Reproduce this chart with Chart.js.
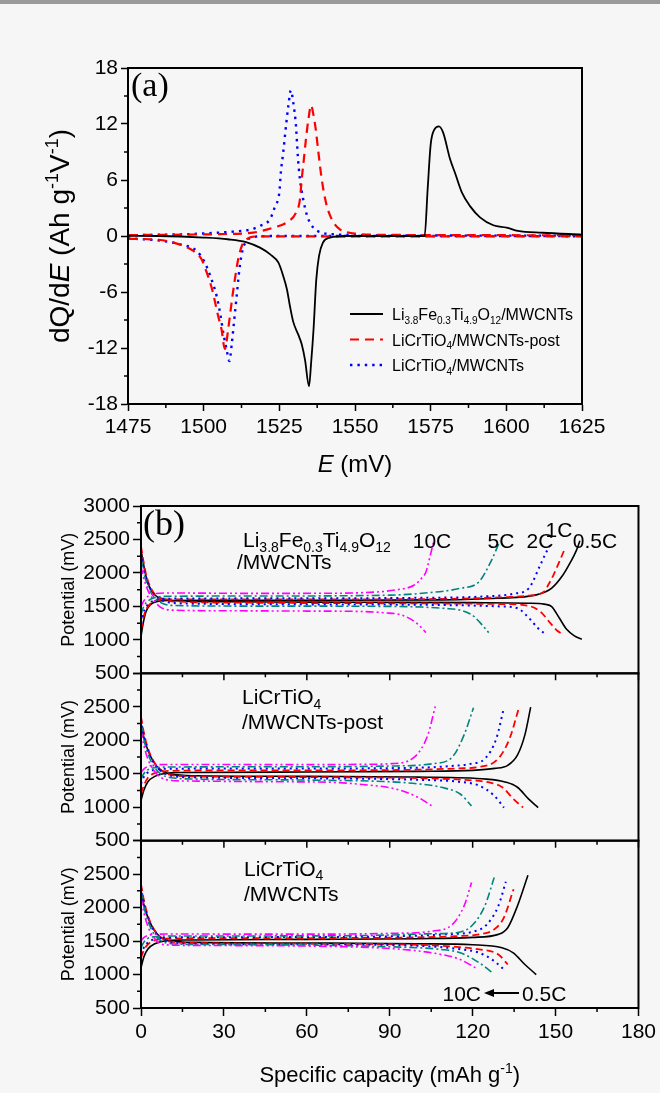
<!DOCTYPE html>
<html>
<head>
<meta charset="utf-8">
<title>dQ/dE and rate curves</title>
<script src="https://cdn.jsdelivr.net/npm/chart.js@4.4.1/dist/chart.umd.min.js"></script>
<style>
  html, body { margin: 0; padding: 0; background: #f6f6f6; }
  #page { position: relative; width: 660px; height: 1093px; overflow: hidden; }
  #topbar { position: absolute; left: 0; top: 0; width: 660px; height: 4px; background: #9a9a9a; }
  .box { position: absolute; left: 0; width: 660px; }
  #boxA { top: 0; height: 480px; }
  #boxB { top: 480px; height: 613px; }
</style>
</head>
<body>
<div id="page">
  <div id="topbar"></div>
  <div class="box" id="boxA"><canvas id="dqde"></canvas></div>
  <div class="box" id="boxB"><canvas id="rate"></canvas></div>
</div>
<script>
// ---------- tick labels ----------
const eTicks = [1475, 1500, 1525, 1550, 1575, 1600, 1625];
const dqTicks = [-18, -12, -6, 0, 6, 12, 18];
const capTicks = [0, 30, 60, 90, 120, 150, 180];
const potTicks = [500, 1000, 1500, 2000, 2500, 3000];

// ---------- panel (a): [E (mV), dQ/dE] ----------
const feDqde = [[1475,0.02],[1485,0],[1500,-0.17],[1508,-0.35],[1514,-0.65],[1518.6,-1.25],[1522,-1.97],[1524.7,-2.86],[1526.3,-4.3],[1527.5,-5.7],[1528.5,-7.5],[1529.6,-9.2],[1531.3,-10.6],[1532.4,-11.6],[1533.5,-13.3],[1534.8,-16.1],[1535.5,-13.6],[1536.3,-10.0],[1537.2,-4.7],[1538.1,-2.15],[1539.4,-0.71],[1541.7,-0.17],[1547,0],[1573,0],[1574,5],[1575,9.8],[1576.2,11.4],[1577.7,11.75],[1579.1,11.1],[1581.4,8.25],[1583,6.8],[1585.3,4.67],[1588,3.2],[1591.3,2.0],[1595.7,1.15],[1600.1,0.9],[1603.8,0.54],[1612,0.35],[1625,0.15]];
const postDis = [[1475,-0.3],[1485,-0.4],[1492,-0.9],[1496.6,-1.6],[1499.3,-2.5],[1501,-3.9],[1502.6,-5.5],[1503.7,-7.0],[1504.8,-8.6],[1505.9,-10.0],[1507,-12.1],[1508.1,-10.0],[1509.2,-7.2],[1510.3,-4.66],[1511.4,-2.5],[1512.6,-1.07],[1514.2,-0.35],[1517.5,-0.05],[1540,-0.05],[1625,-0.05]];
const postChg = [[1475,0.1],[1495,0.15],[1505.4,0.2],[1516.4,0.37],[1523,0.9],[1527.4,1.44],[1530.5,2.5],[1531.8,3.9],[1532.4,6.1],[1533.1,8.2],[1533.8,10.4],[1534.6,12.5],[1535.5,14.0],[1536.2,13.1],[1537,11.5],[1537.9,9.0],[1539,6.1],[1540.4,3.6],[1542.3,1.8],[1545,0.72],[1549.4,0.29],[1560,0.12],[1625,0.08]];
const lctoDis = [[1475,-0.25],[1485.6,-0.5],[1492.2,-0.89],[1497.7,-1.6],[1500.4,-2.86],[1502.6,-4.66],[1504.3,-6.45],[1505.4,-8.2],[1506.5,-10.4],[1507.6,-12.2],[1508.5,-13.4],[1509.3,-11.5],[1510,-9.3],[1510.9,-6.45],[1511.8,-3.6],[1512.9,-1.43],[1514.2,-0.54],[1517.5,-0.06],[1524,0],[1625,-0.02]];
const lctoChg = [[1475,0.08],[1495,0.2],[1505.4,0.37],[1509.8,0.47],[1515.9,0.72],[1518.6,1.08],[1521.9,1.8],[1523.6,3.2],[1525,4.67],[1525.5,6.8],[1526.3,9.0],[1527.2,11.8],[1528,14.0],[1528.8,15.6],[1529.6,14.3],[1530.5,11.8],[1531.1,8.6],[1531.8,6.1],[1532.9,3.9],[1534.2,2.15],[1536.2,0.9],[1539,0.37],[1542.8,0.18],[1560,0.06],[1625,0.04]];

// ---------- panel (b): [capacity (mAh/g), potential (mV)] ----------
// Li3.8Fe0.3Ti4.9O12/MWCNTs
const fe05C_chg = [[0,1050],[0.8,1250],[1.8,1420],[3.5,1530],[6,1575],[10,1588],[30,1590],[60,1592],[108.6,1598],[129,1622],[143,1672],[148.5,1770],[152.6,1965],[155.4,2161],[157.5,2333],[158.8,2480]];
const fe05C_dis = [[0,2350],[0.8,2150],[1.8,1950],[3.2,1780],[5,1670],[8,1610],[12,1585],[30,1570],[80,1562],[120,1556],[140,1548],[145.8,1534],[148.5,1500],[151.3,1330],[154,1157],[156.8,1060],[159.5,1010]];
const fe1C_chg = [[0,1150],[1,1350],[2.2,1480],[4,1560],[7,1600],[12,1605],[60,1605],[110,1612],[130,1635],[140,1660],[145.8,1720],[147.5,1830],[149.2,1965],[151.5,2180],[153.3,2357]];
const fe1C_dis = [[0,2400],[1,2150],[2,1950],[3.5,1780],[5.5,1660],[9,1590],[14,1570],[40,1555],[100,1545],[130,1535],[140,1510],[144.4,1426],[148.5,1230],[150.5,1140],[152.7,1083]];
const fe2C_chg = [[0,1250],[1,1420],[2.5,1530],[5,1590],[9,1615],[40,1620],[100,1628],[125,1650],[135,1690],[140.3,1770],[144.4,2112],[146.5,2300],[148.5,2455]];
const fe2C_dis = [[0,2300],[1,2080],[2.2,1880],[4,1720],[6.5,1620],[10,1560],[20,1540],[60,1530],[110,1520],[130,1500],[136.1,1475],[140.3,1330],[143.5,1180],[146.4,1083]];
const fe5C_chg = [[0,1380],[1,1500],[2.5,1580],[5,1630],[9,1650],[40,1655],[90,1668],[101.7,1696],[115.5,1770],[122.3,1868],[126.5,2162],[129.9,2480]];
const fe5C_dis = [[0,2200],[1,2000],[2.5,1800],[4.5,1650],[7,1560],[11,1515],[30,1505],[90,1500],[101.7,1490],[110,1470],[115.5,1445],[119,1390],[121,1330],[123.5,1220],[125.8,1108]];
const fe10C_chg = [[0,1500],[1,1580],[2.5,1650],[5,1690],[10,1700],[40,1695],[67,1696],[85,1715],[92,1745],[98.9,1819],[101.5,1920],[103.1,2015],[104.6,2250],[105.8,2456]];
const fe10C_dis = [[0,2100],[1,1920],[2.5,1740],[4.5,1600],[7,1490],[11,1445],[30,1435],[60,1430],[80,1424],[87.9,1405],[94.8,1365],[100.3,1230],[103.1,1108]];
// LiCrTiO4/MWCNTs-post
const post05C_chg = [[0,1100],[1,1250],[2.5,1380],[5,1460],[9,1505],[15,1518],[60,1525],[100,1535],[120,1550],[128,1580],[132.7,1626],[136.2,1778],[138.9,2081],[141,2495]];
const post05C_dis = [[0,2250],[1,2050],[2.5,1850],[4.5,1680],[7,1560],[11,1490],[20,1470],[60,1460],[100,1450],[125,1420],[132,1374],[136.2,1298],[140.3,1121],[143.7,995]];
const post1C_chg = [[0,1200],[1,1320],[2.5,1440],[5,1510],[9,1540],[20,1548],[60,1550],[100,1560],[115,1580],[122.4,1601],[129.3,1727],[133.4,2030],[136.8,2495]];
const post1C_dis = [[0,2350],[1,2120],[2.5,1880],[4.5,1690],[7,1560],[11,1480],[20,1460],[60,1450],[100,1435],[120,1400],[127,1360],[130.7,1298],[134.8,1121],[138.2,995]];
const post2C_chg = [[0,1350],[1,1450],[2.5,1520],[5,1560],[10,1575],[60,1578],[100,1590],[112,1615],[119.6,1651],[124.5,1727],[128.6,2030],[131.3,2485]];
const post2C_dis = [[0,2300],[1,2080],[2.5,1850],[4.5,1670],[7,1550],[11,1470],[20,1445],[60,1432],[100,1410],[115,1380],[122.3,1323],[127.8,1172],[131.3,995]];
const post5C_chg = [[0,1420],[1,1500],[2.5,1560],[5,1590],[10,1600],[60,1605],[90,1615],[105.8,1651],[112.7,1752],[116.9,2081],[120.3,2485]];
const post5C_dis = [[0,2250],[1,2020],[2.5,1800],[4.5,1620],[7,1500],[11,1440],[20,1420],[60,1405],[90,1380],[100,1350],[108.6,1298],[115.5,1197],[119.6,1020]];
const post10C_chg = [[0,1520],[1,1570],[2.5,1610],[5,1630],[10,1638],[60,1636],[80,1640],[90.7,1651],[99,1752],[103.8,2081],[106.5,2510]];
const post10C_dis = [[0,2150],[1,1930],[2.5,1720],[4.5,1560],[7,1450],[11,1400],[20,1390],[50,1380],[67.3,1374],[80,1340],[92,1273],[100.3,1146],[105.2,1020]];
// LiCrTiO4/MWCNTs
const lcto05C_chg = [[0,1100],[1,1260],[2.5,1380],[5,1460],[9,1505],[15,1515],[60,1525],[100,1535],[120,1555],[129.3,1600],[132.7,1700],[136.2,2025],[140,2485]];
const lcto05C_dis = [[0,2250],[1,2050],[2.5,1850],[4.5,1680],[7,1560],[11,1500],[20,1480],[60,1470],[100,1460],[120,1445],[130.6,1400],[134.7,1325],[138.9,1150],[143,1000]];
const lcto1C_chg = [[0,1250],[1,1360],[2.5,1450],[5,1510],[9,1535],[20,1542],[60,1545],[100,1555],[115,1575],[122.3,1600],[127.8,1675],[131.3,1850],[134.8,2275]];
const lcto1C_dis = [[0,2350],[1,2120],[2.5,1880],[4.5,1690],[7,1560],[11,1490],[20,1470],[60,1460],[100,1445],[115,1410],[122.4,1375],[129.3,1300],[132.7,1150]];
const lcto2C_chg = [[0,1300],[1,1400],[2.5,1480],[5,1530],[9,1552],[20,1558],[60,1560],[95,1575],[110,1600],[121,1650],[125.2,1750],[129.3,2025],[132,2385]];
const lcto2C_dis = [[0,2300],[1,2080],[2.5,1850],[4.5,1670],[7,1550],[11,1480],[20,1460],[60,1450],[100,1430],[115,1380],[122.4,1325],[127.8,1200],[132,1050]];
const lcto5C_chg = [[0,1400],[1,1480],[2.5,1540],[5,1565],[9,1575],[60,1577],[90,1590],[105,1610],[114.1,1625],[119.6,1725],[124.4,2025],[127.8,2450]];
const lcto5C_dis = [[0,2250],[1,2020],[2.5,1800],[4.5,1620],[7,1510],[11,1460],[20,1450],[60,1440],[90,1415],[108.6,1375],[115.5,1325],[122.4,1175],[127.2,1025]];
const lcto10C_chg = [[0,1500],[1,1550],[2.5,1585],[5,1600],[9,1605],[60,1603],[90,1615],[105.8,1650],[112.7,1750],[116.9,2025],[119.6,2375]];
const lcto10C_dis = [[0,2150],[1,1930],[2.5,1720],[4.5,1560],[7,1460],[11,1440],[20,1435],[60,1425],[94.8,1375],[108.6,1300],[115.5,1225],[121,1100]];

const rates = ['0.5C', '1C', '2C', '5C', '10C'];
const fePanel = [[fe05C_chg, fe05C_dis], [fe1C_chg, fe1C_dis], [fe2C_chg, fe2C_dis], [fe5C_chg, fe5C_dis], [fe10C_chg, fe10C_dis]];
const postPanel = [[post05C_chg, post05C_dis], [post1C_chg, post1C_dis], [post2C_chg, post2C_dis], [post5C_chg, post5C_dis], [post10C_chg, post10C_dis]];
const lctoPanel = [[lcto05C_chg, lcto05C_dis], [lcto1C_chg, lcto1C_dis], [lcto2C_chg, lcto2C_dis], [lcto5C_chg, lcto5C_dis], [lcto10C_chg, lcto10C_dis]];

// ---------- text ----------
const feName = [{t:'Li'},{t:'3.8',sub:1},{t:'Fe'},{t:'0.3',sub:1},{t:'Ti'},{t:'4.9',sub:1},{t:'O'},{t:'12',sub:1}];
const lctoName = [{t:'LiCrTiO'},{t:'4',sub:1}];
const yTitleA = [{t:'dQ/d'},{t:'E',it:1},{t:' (Ah g'},{t:'-1',sup:1},{t:'V'},{t:'-1',sup:1},{t:')'}];
const xTitleA = [{t:'E',it:1},{t:' (mV)'}];
const xTitleB = [{t:'Specific capacity (mAh g'},{t:'-1',sup:1},{t:')'}];

const SANS = '"Liberation Sans", Arial, Helvetica, sans-serif';
const SERIF = '"Liberation Serif", "Times New Roman", serif';
Chart.defaults.font.family = SANS;
Chart.defaults.color = '#000';

const rateStyle = {
  '0.5C': {color: '#000000', dash: [], width: 1.6},
  '1C':   {color: '#ff0000', dash: [7, 4], width: 1.8},
  '2C':   {color: '#0000ff', dash: [2, 4], width: 2},
  '5C':   {color: '#00857f', dash: [8, 3, 2, 3], width: 1.6},
  '10C':  {color: '#ff00ff', dash: [8, 3, 2, 3, 2, 3], width: 1.6},
};

// join branches into one point list, with a gap between them
function joinBranches(list) {
  const out = [];
  list.forEach((b, i) => {
    if (i) out.push({x: b[0][0], y: null});
    b.forEach(p => out.push({x: p[0], y: p[1]}));
  });
  return out;
}

// rich text (subscripts / superscripts / italics) on canvas
function runFont(p, size, fam) {
  const s = (p.sub || p.sup) ? Math.round(size * 0.65) : size;
  return (p.it ? 'italic ' : '') + s + 'px ' + fam;
}
function richWidth(ctx, parts, size, fam) {
  let w = 0;
  parts.forEach(p => { ctx.font = runFont(p, size, fam); w += ctx.measureText(p.t).width; });
  return w;
}
function drawRich(ctx, parts, x, y, size, fam, align) {
  const w = richWidth(ctx, parts, size, fam);
  let cx = align === 'center' ? x - w / 2 : (align === 'right' ? x - w : x);
  ctx.textAlign = 'left';
  ctx.textBaseline = 'alphabetic';
  parts.forEach(p => {
    ctx.font = runFont(p, size, fam);
    const dy = p.sub ? size * 0.22 : (p.sup ? -size * 0.4 : 0);
    ctx.fillText(p.t, cx, y + dy);
    cx += ctx.measureText(p.t).width;
  });
}
function drawRichVertical(ctx, parts, cx, cy, size, fam) {
  ctx.save();
  ctx.translate(cx, cy);
  ctx.rotate(-Math.PI / 2);
  drawRich(ctx, parts, 0, size * 0.36, size, fam, 'center');
  ctx.restore();
}

function tickOpts(size) {
  return {font: {size: size}, color: '#000', maxRotation: 0, autoSkip: false, callback: v => String(v)};
}
function gridOpts(len) {
  return {display: true, drawOnChartArea: false, drawTicks: true, tickLength: len, tickWidth: 1.5, tickColor: '#000'};
}

// ---------- chart (a) ----------
const dsA = [
  {label: feName.concat([{t:'/MWCNTs'}]), data: joinBranches([feDqde]), borderColor: '#000', borderWidth: 1.8, borderDash: []},
  {label: lctoName.concat([{t:'/MWCNTs-post'}]), data: joinBranches([postDis, postChg]), borderColor: '#ff0000', borderWidth: 2.2, borderDash: [9, 6]},
  {label: lctoName.concat([{t:'/MWCNTs'}]), data: joinBranches([lctoDis, lctoChg]), borderColor: '#0000ff', borderWidth: 2.4, borderDash: [2.4, 5]},
];

const decorA = {
  id: 'decorA',
  afterDraw(chart) {
    const {ctx, chartArea: a, scales} = chart;
    ctx.save();
    ctx.strokeStyle = '#000';
    ctx.fillStyle = '#000';
    // minor ticks
    ctx.lineWidth = 1.5;
    ctx.beginPath();
    const xs = eTicks[1] - eTicks[0];
    for (let v = eTicks[0] + xs / 2; v < eTicks[eTicks.length - 1]; v += xs) {
      const px = scales.x.getPixelForValue(v);
      ctx.moveTo(px, a.bottom); ctx.lineTo(px, a.bottom + 4);
    }
    const ys = dqTicks[1] - dqTicks[0];
    for (let v = dqTicks[0] + ys / 2; v < dqTicks[dqTicks.length - 1]; v += ys) {
      const py = scales.y.getPixelForValue(v);
      ctx.moveTo(a.left, py); ctx.lineTo(a.left - 4, py);
    }
    ctx.stroke();
    // frame
    ctx.lineWidth = 2;
    ctx.strokeRect(a.left, a.top, a.right - a.left, a.bottom - a.top);
    // legend
    chart.data.datasets.forEach((ds, i) => {
      const y = 314 + i * 25.5;
      ctx.save();
      ctx.strokeStyle = ds.borderColor;
      ctx.lineWidth = ds.borderWidth;
      ctx.setLineDash(ds.borderDash);
      ctx.beginPath(); ctx.moveTo(350, y); ctx.lineTo(383, y); ctx.stroke();
      ctx.restore();
      drawRich(ctx, ds.label, 392, y + 6, 16, SANS, 'left');
    });
    // panel tag and titles
    ctx.font = '34px ' + SERIF;
    ctx.textAlign = 'left';
    ctx.fillText('(a)', a.left + 3, a.top + 28);
    drawRichVertical(ctx, yTitleA, 59, (a.top + a.bottom) / 2, 28, SANS);
    drawRich(ctx, xTitleA, (a.left + a.right) / 2, 472, 24, SANS, 'center');
    ctx.restore();
  }
};

new Chart(document.getElementById('dqde'), {
  type: 'line',
  data: {datasets: dsA},
  options: {
    responsive: true, maintainAspectRatio: false, animation: false,
    layout: {padding: {left: 0, right: 78, top: 68, bottom: 0}},
    elements: {point: {radius: 0}, line: {cubicInterpolationMode: 'monotone', fill: false}},
    plugins: {legend: {display: false}, tooltip: {enabled: false}},
    scales: {
      x: {type: 'linear', min: eTicks[0], max: eTicks[eTicks.length - 1],
          ticks: Object.assign(tickOpts(21), {stepSize: eTicks[1] - eTicks[0], padding: 4}),
          grid: gridOpts(7), border: {display: true, color: '#000', width: 2},
          afterFit: s => { s.height = 76; }},
      y: {type: 'linear', min: dqTicks[0], max: dqTicks[dqTicks.length - 1],
          ticks: Object.assign(tickOpts(21), {stepSize: dqTicks[1] - dqTicks[0], padding: 3}),
          grid: gridOpts(7), border: {display: true, color: '#000', width: 2},
          afterFit: s => { s.width = 128; }}
    }
  },
  plugins: [decorA]
});

// ---------- chart (b) ----------
const panelIds = ['yTop', 'yMid', 'yBot'];
const panelData = [fePanel, postPanel, lctoPanel];
const dsB = [];
panelData.forEach((panel, p) => {
  // draw the 0.5C curve last so it sits on top
  for (let r = rates.length - 1; r >= 0; r--) {
    const st = rateStyle[rates[r]];
    dsB.push({label: rates[r], data: joinBranches(panel[r]), yAxisID: panelIds[p],
      borderColor: st.color, borderWidth: st.width, borderDash: st.dash});
  }
});

function potAxis(showTop) {
  return {type: 'linear', position: 'left', stack: 'b', stackWeight: 1, offset: false,
    min: potTicks[0], max: potTicks[potTicks.length - 1],
    ticks: Object.assign(tickOpts(21), {stepSize: potTicks[1] - potTicks[0], padding: 3,
      callback: v => (v === potTicks[potTicks.length - 1] && !showTop) ? '' : String(v)}),
    grid: gridOpts(8), border: {display: true, color: '#000', width: 2},
    afterFit: s => { s.width = 141; }};
}

const decorB = {
  id: 'decorB',
  afterDraw(chart) {
    const {ctx, chartArea: a, scales} = chart;
    const xs = scales.x;
    const panels = panelIds.map(id => scales[id]);
    const cStep = capTicks[1] - capTicks[0];
    const pStep = potTicks[1] - potTicks[0];
    ctx.save();
    ctx.strokeStyle = '#000';
    ctx.fillStyle = '#000';
    ctx.lineWidth = 1.5;
    ctx.beginPath();
    panels.forEach((s, i) => {
      // bottom-axis ticks of the upper panels point down into the next one
      if (i < panels.length - 1) {
        for (let v = capTicks[0]; v <= capTicks[capTicks.length - 1]; v += cStep / 2) {
          const px = xs.getPixelForValue(v);
          ctx.moveTo(px, s.bottom); ctx.lineTo(px, s.bottom + (v % cStep === 0 ? 7 : 4));
        }
      }
      for (let v = potTicks[0] + pStep / 2; v < potTicks[potTicks.length - 1]; v += pStep) {
        const py = s.getPixelForValue(v);
        ctx.moveTo(a.left, py); ctx.lineTo(a.left - 4, py);
      }
    });
    for (let v = capTicks[0] + cStep / 2; v < capTicks[capTicks.length - 1]; v += cStep) {
      const px = xs.getPixelForValue(v);
      ctx.moveTo(px, a.bottom); ctx.lineTo(px, a.bottom + 4);
    }
    ctx.stroke();
    ctx.lineWidth = 2;
    panels.forEach(s => ctx.strokeRect(a.left, s.top, a.right - a.left, s.bottom - s.top));

    // y titles
    panels.forEach(s => drawRichVertical(ctx, [{t:'Potential (mV)'}], 68, (s.top + s.bottom) / 2, 18, SANS));
    drawRich(ctx, xTitleB, (a.left + a.right) / 2, 602, 22, SANS, 'center');

    // panel tag and sample names
    ctx.font = '36px ' + SERIF;
    ctx.textAlign = 'left';
    ctx.fillText('(b)', a.left + 2, panels[0].top + 29);
    drawRich(ctx, feName, 243, panels[0].top + 41, 21, SANS, 'left');
    drawRich(ctx, [{t:'/MWCNTs'}], 237, panels[0].top + 63, 21, SANS, 'left');
    drawRich(ctx, lctoName, 242, panels[1].top + 31, 21, SANS, 'left');
    drawRich(ctx, [{t:'/MWCNTs-post'}], 242, panels[1].top + 56, 21, SANS, 'left');
    drawRich(ctx, lctoName, 244, panels[2].top + 35, 21, SANS, 'left');
    drawRich(ctx, [{t:'/MWCNTs'}], 244, panels[2].top + 60, 21, SANS, 'left');

    // rate labels (top panel)
    ctx.font = '21px ' + SANS;
    ctx.textAlign = 'center';
    const ty = panels[0].top + 42;
    ctx.fillText('10C', 432, ty);
    ctx.fillText('5C', 501, ty);
    ctx.fillText('2C', 540, ty);
    ctx.fillText('1C', 559, ty - 11);
    ctx.fillText('0.5C', 595, ty);

    // rate arrow (bottom panel)
    const ay = panels[2].bottom - 15;
    ctx.textAlign = 'right';
    ctx.fillText('10C', 481, ay + 8);
    ctx.textAlign = 'left';
    ctx.fillText('0.5C', 522, ay + 8);
    ctx.lineWidth = 2;
    ctx.beginPath(); ctx.moveTo(519, ay); ctx.lineTo(492, ay); ctx.stroke();
    ctx.beginPath(); ctx.moveTo(484, ay); ctx.lineTo(494, ay - 4); ctx.lineTo(494, ay + 4); ctx.closePath(); ctx.fill();
    ctx.restore();
  }
};

new Chart(document.getElementById('rate'), {
  type: 'line',
  data: {datasets: dsB},
  options: {
    responsive: true, maintainAspectRatio: false, animation: false,
    layout: {padding: {left: 0, right: 19, top: 26, bottom: 0}},
    elements: {point: {radius: 0}, line: {cubicInterpolationMode: 'monotone', fill: false}},
    plugins: {legend: {display: false}, tooltip: {enabled: false}},
    scales: {
      x: {type: 'linear', min: capTicks[0], max: capTicks[capTicks.length - 1],
          ticks: Object.assign(tickOpts(21), {stepSize: capTicks[1] - capTicks[0], padding: 4}),
          grid: gridOpts(8), border: {display: true, color: '#000', width: 2},
          afterFit: s => { s.height = 85; }},
      yBot: potAxis(false),
      yMid: potAxis(false),
      yTop: potAxis(true)
    }
  },
  plugins: [decorB]
});
</script>
</body>
</html>
